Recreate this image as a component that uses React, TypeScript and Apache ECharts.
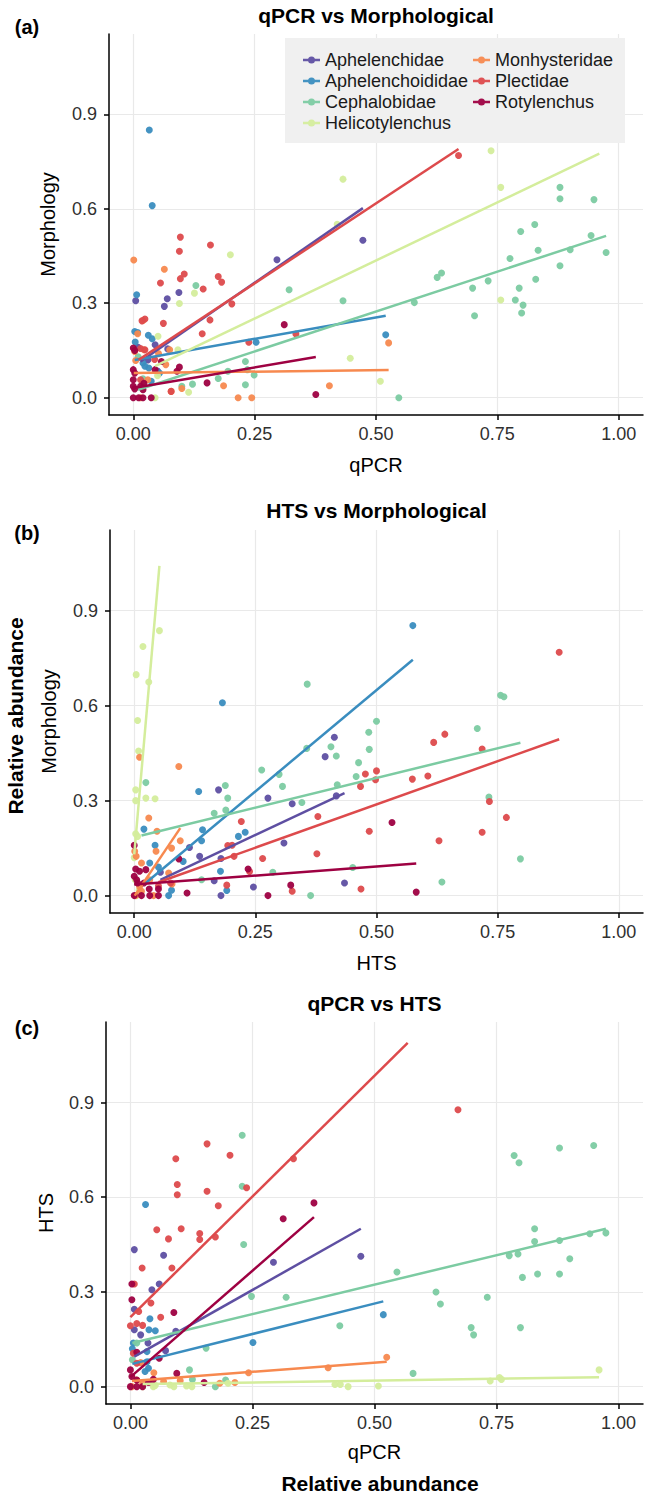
import React, { useEffect, useRef } from "react";
import * as echarts from "echarts";

const families = ["Aphelenchidae", "Aphelenchoididae", "Cephalobidae", "Helicotylenchus", "Monhysteridae", "Plectidae", "Rotylenchus"];
const colors = ["#5E4FA2", "#3A8DBF", "#7CCBA2", "#D4ED9C", "#F7894F", "#DD4A4C", "#9E0142"];
const xTicks = [0, 0.25, 0.5, 0.75, 1];
const yTicks = [0, 0.3, 0.6, 0.9];
const panelTitles = ["qPCR vs Morphological", "HTS vs Morphological", "qPCR vs HTS"];
const panelTags = ["(a)", "(b)", "(c)"];
const xNames = ["qPCR", "HTS", "qPCR"];
const yNames = ["Morphology", "Morphology", "HTS"];
const sharedLabel = "Relative abundance";

// ---- Panel (a): qPCR vs Morphology ----
const A_Aphelenchidae = [[0.005,0.308],[0.064,0.29],[0.07,0.314],[0.094,0.334],[0.296,0.438],[0.473,0.5],[0.045,0.168],[0.071,0.155],[0.03,0.12],[0.05,0.085],[0.02,0.05],[0.01,0.16]];
const A_Aphelenchoididae = [[0.033,0.85],[0.039,0.61],[0.007,0.327],[0.003,0.21],[0.009,0.207],[0.004,0.177],[0.031,0.198],[0.039,0.187],[0.02,0.11],[0.024,0.1],[0.032,0.094],[0.054,0.078],[0.037,0.052],[0.253,0.176],[0.52,0.2]];
const A_Cephalobidae = [[0.321,0.343],[0.432,0.308],[0.579,0.302],[0.626,0.382],[0.635,0.396],[0.699,0.348],[0.703,0.26],[0.731,0.371],[0.776,0.442],[0.787,0.31],[0.795,0.348],[0.798,0.528],[0.803,0.294],[0.8,0.269],[0.827,0.55],[0.834,0.468],[0.829,0.376],[0.879,0.668],[0.879,0.632],[0.879,0.419],[0.9,0.47],[0.943,0.515],[0.949,0.629],[0.974,0.461],[0.547,0.0],[0.129,0.356],[0.195,0.084],[0.175,0.061],[0.231,0.115],[0.235,0.089],[0.249,0.072],[0.231,0.041],[0.122,0.043],[0.1,0.036],[0.02,0.06],[0.01,0.13]];
const A_Helicotylenchus = [[0.737,0.784],[0.432,0.694],[0.757,0.668],[0.42,0.551],[0.2,0.454],[0.126,0.332],[0.095,0.299],[0.051,0.195],[0.092,0.152],[0.757,0.31],[0.447,0.125],[0.509,0.052],[0.114,0.017],[0.045,0.0],[0.02,0.04],[0.05,0.07]];
const A_Monhysteridae = [[0.001,0.437],[0.064,0.408],[0.02,0.245],[0.009,0.203],[0.003,0.147],[0.022,0.152],[0.005,0.118],[0.052,0.14],[0.075,0.152],[0.067,0.105],[0.1,0.029],[0.078,0.02],[0.186,0.038],[0.216,0.0],[0.244,0.0],[0.404,0.038],[0.526,0.174],[0.03,0.057],[0.015,0.0]];
const A_Plectidae = [[0.67,0.769],[0.097,0.51],[0.095,0.465],[0.159,0.485],[0.105,0.393],[0.097,0.378],[0.175,0.385],[0.182,0.367],[0.056,0.364],[0.144,0.345],[0.203,0.298],[0.024,0.25],[0.018,0.244],[0.062,0.236],[0.158,0.247],[0.142,0.203],[0.238,0.176],[0.335,0.202],[0.015,0.156],[0.024,0.152],[0.044,0.121],[0.078,0.02],[0.015,0.057]];
const A_Rotylenchus = [[0.0,0.158],[0.003,0.15],[0.0,0.089],[0.003,0.078],[0.0,0.057],[0.0,0.036],[0.003,0.028],[0.0,0.0],[0.011,0.0],[0.02,0.0],[0.037,0.0],[0.02,0.025],[0.015,0.036],[0.022,0.046],[0.045,0.089],[0.058,0.115],[0.09,0.084],[0.095,0.097],[0.152,0.047],[0.311,0.232],[0.376,0.01]];
const fitsA = [
  [[0.015,0.115],[0.473,0.602]],
  [[0.003,0.12],[0.52,0.26]],
  [[0.01,0.025],[0.974,0.514]],
  [[0.045,0.1],[0.96,0.775]],
  [[0.001,0.078],[0.526,0.088]],
  [[0.011,0.12],[0.67,0.79]],
  [[0.0,0.031],[0.376,0.129]],
];

// ---- Panel (b): HTS vs Morphology ----
const B_Aphelenchidae = [[0.413,0.5],[0.394,0.439],[0.174,0.334],[0.276,0.308],[0.326,0.29],[0.309,0.166],[0.114,0.152],[0.135,0.124],[0.179,0.117],[0.054,0.074],[0.165,0.047],[0.246,0.027],[0.434,0.04],[0.179,0.0],[0.417,0.315]];
const B_Aphelenchoididae = [[0.575,0.853],[0.182,0.609],[0.133,0.329],[0.141,0.208],[0.139,0.173],[0.229,0.2],[0.215,0.187],[0.02,0.21],[0.043,0.159],[0.032,0.103],[0.178,0.077],[0.191,0.016],[0.071,0.0],[0.077,0.017],[0.101,0.108],[0.05,0.09]];
const B_Cephalobidae = [[0.357,0.668],[0.756,0.633],[0.763,0.628],[0.5,0.551],[0.708,0.528],[0.484,0.516],[0.406,0.47],[0.417,0.441],[0.485,0.462],[0.356,0.465],[0.263,0.397],[0.463,0.42],[0.458,0.376],[0.419,0.35],[0.299,0.383],[0.306,0.345],[0.188,0.348],[0.193,0.308],[0.165,0.26],[0.189,0.27],[0.346,0.294],[0.732,0.311],[0.797,0.116],[0.024,0.357],[0.451,0.089],[0.635,0.043],[0.364,0.0],[0.286,0.074],[0.139,0.05]];
const B_Helicotylenchus = [[0.052,0.837],[0.018,0.787],[0.004,0.698],[0.03,0.675],[0.007,0.553],[0.009,0.457],[0.003,0.334],[0.003,0.3],[0.024,0.308],[0.043,0.306],[0.003,0.195],[0.007,0.187],[0.0,0.12],[0.002,0.05],[0.005,0.0],[0.01,0.017]];
const B_Monhysteridae = [[0.011,0.437],[0.092,0.408],[0.03,0.245],[0.047,0.203],[0.095,0.173],[0.001,0.14],[0.004,0.124],[0.015,0.103],[0.045,0.14],[0.077,0.15],[0.071,0.071],[0.032,0.05],[0.011,0.029],[0.078,0.037],[0.015,0.014],[0.003,0.0],[0.04,0.0]];
const B_Plectidae = [[0.877,0.769],[0.618,0.484],[0.641,0.51],[0.718,0.463],[0.733,0.297],[0.718,0.2],[0.768,0.247],[0.629,0.173],[0.574,0.368],[0.606,0.378],[0.5,0.394],[0.498,0.366],[0.477,0.384],[0.467,0.345],[0.485,0.203],[0.379,0.25],[0.377,0.132],[0.265,0.117],[0.221,0.234],[0.193,0.158],[0.202,0.159],[0.206,0.124],[0.191,0.033],[0.326,0.014],[0.468,0.021],[0.238,0.076],[0.075,0.04],[0.05,0.03]];
const B_Rotylenchus = [[0.0,0.159],[0.003,0.084],[0.0,0.061],[0.005,0.05],[0.007,0.04],[0.011,0.077],[0.0,0.0],[0.015,0.0],[0.032,0.0],[0.05,0.0],[0.024,0.082],[0.031,0.021],[0.05,0.021],[0.02,0.04],[0.092,0.116],[0.109,0.008],[0.235,0.084],[0.276,0.0],[0.323,0.033],[0.532,0.231],[0.582,0.011]];
const fitsB = [
  [[0.054,0.05],[0.434,0.324]],
  [[0.02,0.035],[0.575,0.745]],
  [[0.015,0.19],[0.797,0.483]],
  [[0.0,0.13],[0.052,1.042]],
  [[0.001,0.0],[0.095,0.213]],
  [[0.05,0.042],[0.877,0.494]],
  [[0.0,0.035],[0.582,0.101]],
];

// ---- Panel (c): qPCR vs HTS ----
const C_Aphelenchidae = [[0.008,0.434],[0.068,0.416],[0.059,0.325],[0.044,0.307],[0.293,0.394],[0.472,0.413],[0.008,0.245],[0.021,0.164],[0.008,0.18],[0.072,0.114],[0.036,0.138],[0.093,0.175]];
const C_Aphelenchoididae = [[0.031,0.577],[0.04,0.215],[0.038,0.18],[0.051,0.177],[0.034,0.111],[0.251,0.14],[0.518,0.228],[0.006,0.138],[0.034,0.079],[0.037,0.058],[0.03,0.048],[0.004,0.12]];
const C_Cephalobidae = [[0.786,0.732],[0.796,0.709],[0.229,0.796],[0.229,0.635],[0.232,0.45],[0.546,0.363],[0.828,0.5],[0.828,0.46],[0.879,0.463],[0.941,0.484],[0.974,0.487],[0.9,0.405],[0.776,0.415],[0.794,0.42],[0.803,0.346],[0.834,0.357],[0.879,0.357],[0.626,0.3],[0.635,0.262],[0.731,0.283],[0.698,0.187],[0.703,0.164],[0.799,0.187],[0.429,0.193],[0.248,0.286],[0.319,0.283],[0.155,0.122],[0.121,0.053],[0.127,0.023],[0.579,0.042],[0.174,0.0],[0.195,0.021],[0.004,0.085],[0.013,0.138],[0.879,0.756],[0.949,0.764]];
const C_Helicotylenchus = [[0.96,0.053],[0.756,0.029],[0.737,0.018],[0.446,0.0],[0.419,0.007],[0.43,0.007],[0.508,0.002],[0.2,0.011],[0.115,0.002],[0.089,0.0],[0.081,0.005],[0.047,0.0],[0.025,0.0],[0.76,0.023],[0.126,0.0],[0.051,0.004]];
const C_Monhysteridae = [[0.525,0.093],[0.405,0.06],[0.242,0.044],[0.214,0.013],[0.183,0.011],[0.102,0.019],[0.068,0.016],[0.048,0.044],[0.021,0.076],[0.013,0.021],[0.025,0.011],[0.003,0.0]];
const C_Plectidae = [[0.671,0.877],[0.157,0.769],[0.204,0.733],[0.093,0.722],[0.334,0.722],[0.096,0.64],[0.096,0.608],[0.157,0.619],[0.18,0.573],[0.238,0.63],[0.054,0.497],[0.104,0.5],[0.078,0.468],[0.142,0.485],[0.142,0.466],[0.174,0.474],[0.085,0.376],[0.024,0.376],[0.008,0.325],[0.042,0.265],[0.062,0.22],[0.017,0.238],[0.0,0.193],[0.013,0.2],[0.025,0.194],[0.006,0.106],[0.013,0.074]];
const C_Rotylenchus = [[0.376,0.582],[0.313,0.532],[0.089,0.235],[0.003,0.325],[0.003,0.275],[0.059,0.09],[0.013,0.109],[0.095,0.042],[0.151,0.013],[0.0,0.053],[0.003,0.032],[0.0,0.0],[0.013,0.0],[0.025,0.0],[0.013,0.021],[0.037,0.013],[0.047,0.023]];
const fitsC = [
  [[0.008,0.095],[0.472,0.5]],
  [[0.004,0.072],[0.518,0.27]],
  [[0.004,0.138],[0.974,0.5]],
  [[0.025,0.008],[0.96,0.03]],
  [[0.003,0.018],[0.525,0.079]],
  [[0.0,0.22],[0.568,1.089]],
  [[0.0,0.03],[0.376,0.537]],
];

const FONT = "'Liberation Sans', Arial, Helvetica, sans-serif";
const LEGEND_ICON = "path://M0,2.3L17,2.3L17,4.7L0,4.7Z M5,3.5A3.5,3.5,0,1,1,12,3.5A3.5,3.5,0,1,1,5,3.5Z";

function buildOption() {
  const grids = [
    { left: 109, top: 34, width: 534, height: 381 },
    { left: 110, top: 530, width: 533, height: 383 },
    { left: 106, top: 1022, width: 537, height: 382 },
  ];
  const xGaps = [40, 40, 38];
  const yGaps = [51, 51, 50];
  const panels = [
    { scatter: [A_Aphelenchidae, A_Aphelenchoididae, A_Cephalobidae, A_Helicotylenchus, A_Monhysteridae, A_Plectidae, A_Rotylenchus], fits: fitsA },
    { scatter: [B_Aphelenchidae, B_Aphelenchoididae, B_Cephalobidae, B_Helicotylenchus, B_Monhysteridae, B_Plectidae, B_Rotylenchus], fits: fitsB },
    { scatter: [C_Aphelenchidae, C_Aphelenchoididae, C_Cephalobidae, C_Helicotylenchus, C_Monhysteridae, C_Plectidae, C_Rotylenchus], fits: fitsC },
  ];

  const series: any[] = [];
  panels.forEach((p, pi) => {
    families.forEach((f, fi) => {
      series.push({
        type: "scatter", name: f, xAxisIndex: pi, yAxisIndex: pi,
        data: p.scatter[fi], symbolSize: 7,
        itemStyle: { color: colors[fi], opacity: 0.95 }, z: 2, silent: true,
      });
    });
    families.forEach((f, fi) => {
      series.push({
        type: "line", name: f, xAxisIndex: pi, yAxisIndex: pi,
        data: p.fits[fi], showSymbol: false, symbol: "none",
        lineStyle: { color: colors[fi], width: 2.5 }, itemStyle: { color: colors[fi] },
        z: 3, silent: true,
      });
    });
  });

  const axisCommon = {
    axisLine: { show: true, onZero: false, lineStyle: { color: "#000", width: 1.5 } },
    splitLine: { show: true, lineStyle: { color: "#E9E9E9", width: 1.2 } },
  };

  const graphic: any[] = [];
  grids.forEach((g, i) => {
    graphic.push({
      type: "text", x: g.left + g.width / 2, y: [15, 510, 1003][i],
      style: { text: panelTitles[i], font: `bold 21px ${FONT}`, fill: "#000", align: "center", verticalAlign: "middle" },
    });
    graphic.push({
      type: "text", x: 27, y: [27, 533, 1028][i],
      style: { text: panelTags[i], font: `bold 20px ${FONT}`, fill: "#000", align: "center", verticalAlign: "middle" },
    });
  });
  graphic.push({
    type: "text", x: 15.5, y: 716, rotation: Math.PI / 2,
    style: { text: sharedLabel, font: `bold 21px ${FONT}`, fill: "#000", align: "center", verticalAlign: "middle" },
  });
  graphic.push({
    type: "text", x: 380, y: 1483,
    style: { text: sharedLabel, font: `bold 21px ${FONT}`, fill: "#000", align: "center", verticalAlign: "middle" },
  });
  graphic.push({
    type: "rect", z: 5, shape: { x: 285, y: 38, width: 340, height: 105 },
    style: { fill: "#F0F0F0" },
  });

  const legendText = { fontSize: 18, fontFamily: FONT, color: "#1a1a1a" };
  const legend = [
    { data: families.slice(0, 4).map((n) => ({ name: n, icon: LEGEND_ICON })), left: 303, top: 51 },
    { data: families.slice(4).map((n) => ({ name: n, icon: LEGEND_ICON })), left: 473, top: 51 },
  ].map((l) => ({
    ...l, orient: "vertical", padding: 0, itemGap: 3, itemWidth: 17, itemHeight: 8,
    selectedMode: false, textStyle: legendText, z: 6,
  }));

  return {
    animation: false,
    backgroundColor: "#ffffff",
    grid: grids,
    legend,
    graphic,
    xAxis: grids.map((g, i) => ({
      type: "value", gridIndex: i, min: -0.05, max: 1.05,
      name: xNames[i], nameLocation: "middle", nameGap: xGaps[i],
      nameTextStyle: { fontSize: 20, color: "#000", fontFamily: FONT },
      ...axisCommon,
      axisTick: { show: true, length: 5, customValues: xTicks, lineStyle: { color: "#000", width: 1.5 } },
      axisLabel: { customValues: xTicks, formatter: (v: number) => v.toFixed(2), fontSize: 18, color: "#303030", fontFamily: FONT, margin: 10 },
    })),
    yAxis: grids.map((g, i) => ({
      type: "value", gridIndex: i, min: -0.055, max: 1.155,
      name: yNames[i], nameLocation: "middle", nameGap: yGaps[i],
      nameTextStyle: { fontSize: 20, color: "#000", fontFamily: FONT },
      ...axisCommon,
      axisTick: { show: true, length: 5, customValues: yTicks, lineStyle: { color: "#000", width: 1.5 } },
      axisLabel: { customValues: yTicks, formatter: (v: number) => v.toFixed(1), fontSize: 18, color: "#303030", fontFamily: FONT, margin: 12 },
    })),
    series,
  };
}

export default function App() {
  const ref = useRef<HTMLDivElement>(null);
  useEffect(() => {
    if (!ref.current) return;
    const chart = echarts.init(ref.current, undefined, { renderer: "svg" });
    chart.setOption(buildOption() as any);
    return () => chart.dispose();
  }, []);
  return (
    <div
      ref={ref}
      style={{ position: "absolute", left: 0, top: 0, width: 649, height: 1494, background: "#fff" }}
    />
  );
}
